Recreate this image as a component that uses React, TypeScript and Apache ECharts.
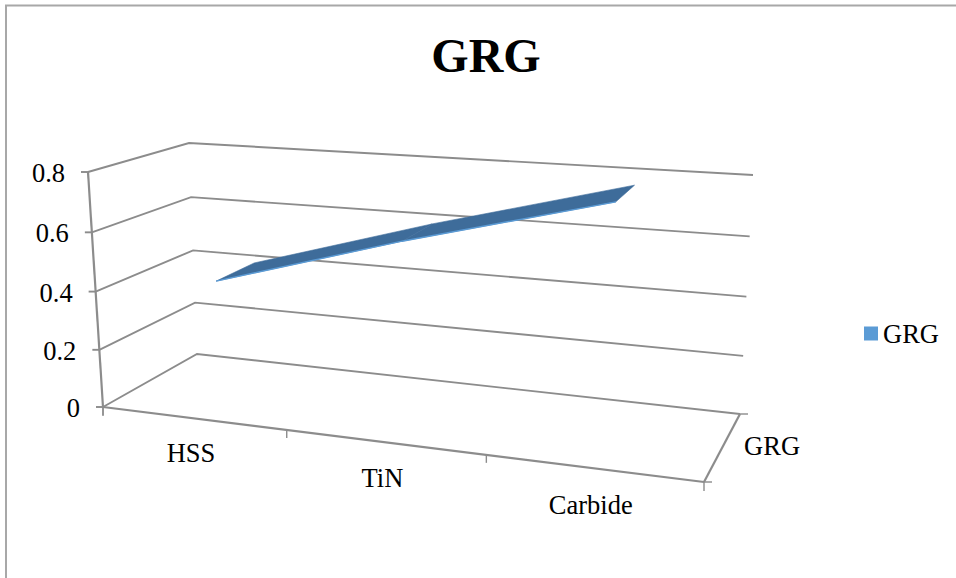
import React, { useEffect, useRef } from "react";
import * as echarts from "echarts";

const categories = ["HSS", "TiN", "Carbide"];
const seriesName = "GRG";
const grgValues = [0.415, 0.602, 0.775];
const valueTicks = [0, 0.2, 0.4, 0.6, 0.8];
const tickLabels = ["0", "0.2", "0.4", "0.6", "0.8"];

const FONT = "Liberation Serif";
const LINE = "#8c8c8c";

type Pt = [number, number];
type Quad = [Pt, Pt, Pt, Pt];

// Corners of the box's floor and ceiling: front-left, front-right, back-right, back-left.
const floorQuad: Quad = [[103, 407], [704, 482], [740, 414], [197, 354]];
const ceilingQuad: Quad = [[88, 172], [726, 216], [753, 175], [189, 143]];
const VERTICAL_FORESHORTEN = 0.965;
const RIBBON_FRONT = 0.32;
const RIBBON_BACK = 0.75;

// Perspective map from the unit square onto a quadrilateral.
function squareToQuad(q: Quad) {
  const [[x0, y0], [x1, y1], [x2, y2], [x3, y3]] = q;
  const dx1 = x1 - x2, dx2 = x3 - x2, sx = x0 - x1 + x2 - x3;
  const dy1 = y1 - y2, dy2 = y3 - y2, sy = y0 - y1 + y2 - y3;
  const den = dx1 * dy2 - dx2 * dy1;
  const g = (sx * dy2 - dx2 * sy) / den;
  const h = (dx1 * sy - sx * dy1) / den;
  const a = x1 - x0 + g * x1, b = x3 - x0 + h * x3;
  const d = y1 - y0 + g * y1, e = y3 - y0 + h * y3;
  return (u: number, z: number): Pt => {
    const w = g * u + h * z + 1;
    return [(a * u + b * z + x0) / w, (d * u + e * z + y0) / w];
  };
}

const onFloor = squareToQuad(floorQuad);
const onCeiling = squareToQuad(ceilingQuad);

// u: along the categories, v: up the value axis, z: into the depth axis (all 0..1).
function project(u: number, v: number, z: number): Pt {
  const t = (v * VERTICAL_FORESHORTEN) / (1 + v * (VERTICAL_FORESHORTEN - 1));
  const f = onFloor(u, z);
  const c = onCeiling(u, z);
  return [f[0] + (c[0] - f[0]) * t, f[1] + (c[1] - f[1]) * t];
}

// Reads the hidden cartesian axes and hands back the box coordinates of a datum.
function toBox(params: any, api: any, cat: number, value: number) {
  const grid = params.coordSys;
  const [px, py] = api.coord([cat, value]);
  return {
    u: (px - grid.x) / grid.width,
    v: (grid.y + grid.height - py) / grid.height,
  };
}

function line(points: Pt[], stroke = LINE, lineWidth = 1.9) {
  return {
    type: "polyline",
    shape: { points },
    style: { stroke, fill: "none", lineWidth },
  };
}

function label(text: string, x: number, y: number, align: string) {
  return {
    type: "text",
    style: {
      text,
      x,
      y,
      align,
      verticalAlign: "middle",
      fill: "#000",
      font: `26.5px "${FONT}"`,
    },
  };
}

function renderValueLevel(params: any, api: any) {
  const i = params.dataIndex;
  const { v } = toBox(params, api, 0, api.value(1));
  const front = project(0, v, 0);
  const back = project(0, v, 1);
  const right = project(1, v, 1);
  return {
    type: "group",
    children: [
      line([front, back, right]),
      line([[front[0] - 7, front[1]], front]),
      label(tickLabels[i], front[0] - 23, front[1] + 1, "right"),
    ],
  };
}

function renderCategory(params: any, api: any) {
  const i = params.dataIndex;
  const n = categories.length;
  const { u } = toBox(params, api, i, 0);
  const left = project(i / n, 0, 0);
  const mid = project(u, 0, 0);
  const children: any[] = [
    line([left, [left[0], left[1] + 8]], LINE, 1.4),
    label(categories[i], mid[0] - 2, mid[1] + 35 + i * 0.75, "center"),
  ];
  return { type: "group", children };
}

function renderFrame() {
  const start = project(0, 0, 0);
  const end = project(1, 0, 0);
  const endBack = project(1, 0, 1);
  const top = project(0, 1, 0);
  const depthMid = project(1, 0, 0.5);
  return {
    type: "group",
    children: [
      line([start, end], LINE, 2.2),
      line([top, start], LINE, 2.2),
      line([end, endBack], LINE, 2.2),
      line([end, [end[0], end[1] + 9]], LINE, 1.4),
      line([end, [end[0] + 8, end[1]]], LINE, 1.4),
      line([endBack, [endBack[0] + 8, endBack[1]]], LINE, 1.4),
      line([start, [start[0], start[1] + 9]], LINE, 1.4),
      label(seriesName, depthMid[0] + 21, depthMid[1], "left"),
    ],
  };
}

function renderRibbon(params: any, api: any) {
  const i = params.dataIndex;
  if (i >= grgValues.length - 1) return undefined;
  const a = toBox(params, api, i, api.value(1));
  const b = toBox(params, api, i + 1, grgValues[i + 1]);
  const p0 = project(a.u, a.v, RIBBON_FRONT);
  const p1 = project(b.u, b.v, RIBBON_FRONT);
  const p2 = project(b.u, b.v, RIBBON_BACK);
  const p3 = project(a.u, a.v, RIBBON_BACK);
  return {
    type: "group",
    children: [
      {
        type: "polygon",
        shape: { points: [p0, p1, p2, p3] },
        style: { fill: "#3e6c9a", stroke: "#3e6c9a", lineWidth: 0.6 },
      },
      line([p0, p1], "#5b9bd5", 1.4),
    ],
  };
}

export default function App() {
  const ref = useRef<HTMLDivElement>(null);

  useEffect(() => {
    document.body.style.margin = "0";
    const chart = echarts.init(ref.current!, null, { renderer: "svg" });
    chart.setOption({
      animation: false,
      backgroundColor: "#fff",
      title: {
        text: seriesName,
        left: 481,
        top: 26,
        textAlign: "center",
        textStyle: {
          fontFamily: FONT,
          fontWeight: "bold",
          fontSize: 48,
          color: "#000",
        },
      },
      legend: {
        data: [{ name: seriesName, icon: "rect" }],
        left: 864,
        top: 320,
        padding: 0,
        itemWidth: 14,
        itemHeight: 14,
        textStyle: { fontFamily: FONT, fontSize: 26.5, color: "#000" },
      },
      grid: { left: 100, right: 100, top: 100, bottom: 100 },
      xAxis: { type: "category", data: categories, show: false },
      yAxis: { type: "value", min: 0, max: 0.8, interval: 0.2, show: false },
      graphic: [
        {
          type: "rect",
          z: -1,
          shape: { x: 6, y: 5.5, width: 1000, height: 620 },
          style: { fill: "none", stroke: "#a8a8a8", lineWidth: 2 },
        },
      ],
      series: [
        {
          type: "custom",
          name: "levels",
          data: valueTicks.map((t) => [0, t]),
          renderItem: renderValueLevel,
          silent: true,
          clip: false,
        },
        {
          type: "custom",
          name: "categories",
          data: categories.map((_, i) => [i, 0]),
          renderItem: renderCategory,
          silent: true,
          clip: false,
        },
        {
          type: "custom",
          name: "frame",
          data: [[0, 0]],
          renderItem: renderFrame,
          silent: true,
          clip: false,
        },
        {
          type: "custom",
          name: seriesName,
          data: grgValues.map((v, i) => [i, v]),
          renderItem: renderRibbon,
          itemStyle: { color: "#5b9bd5" },
          silent: true,
          clip: false,
        },
      ],
    });
    return () => chart.dispose();
  }, []);

  return <div ref={ref} style={{ width: 956, height: 578 }} />;
}
